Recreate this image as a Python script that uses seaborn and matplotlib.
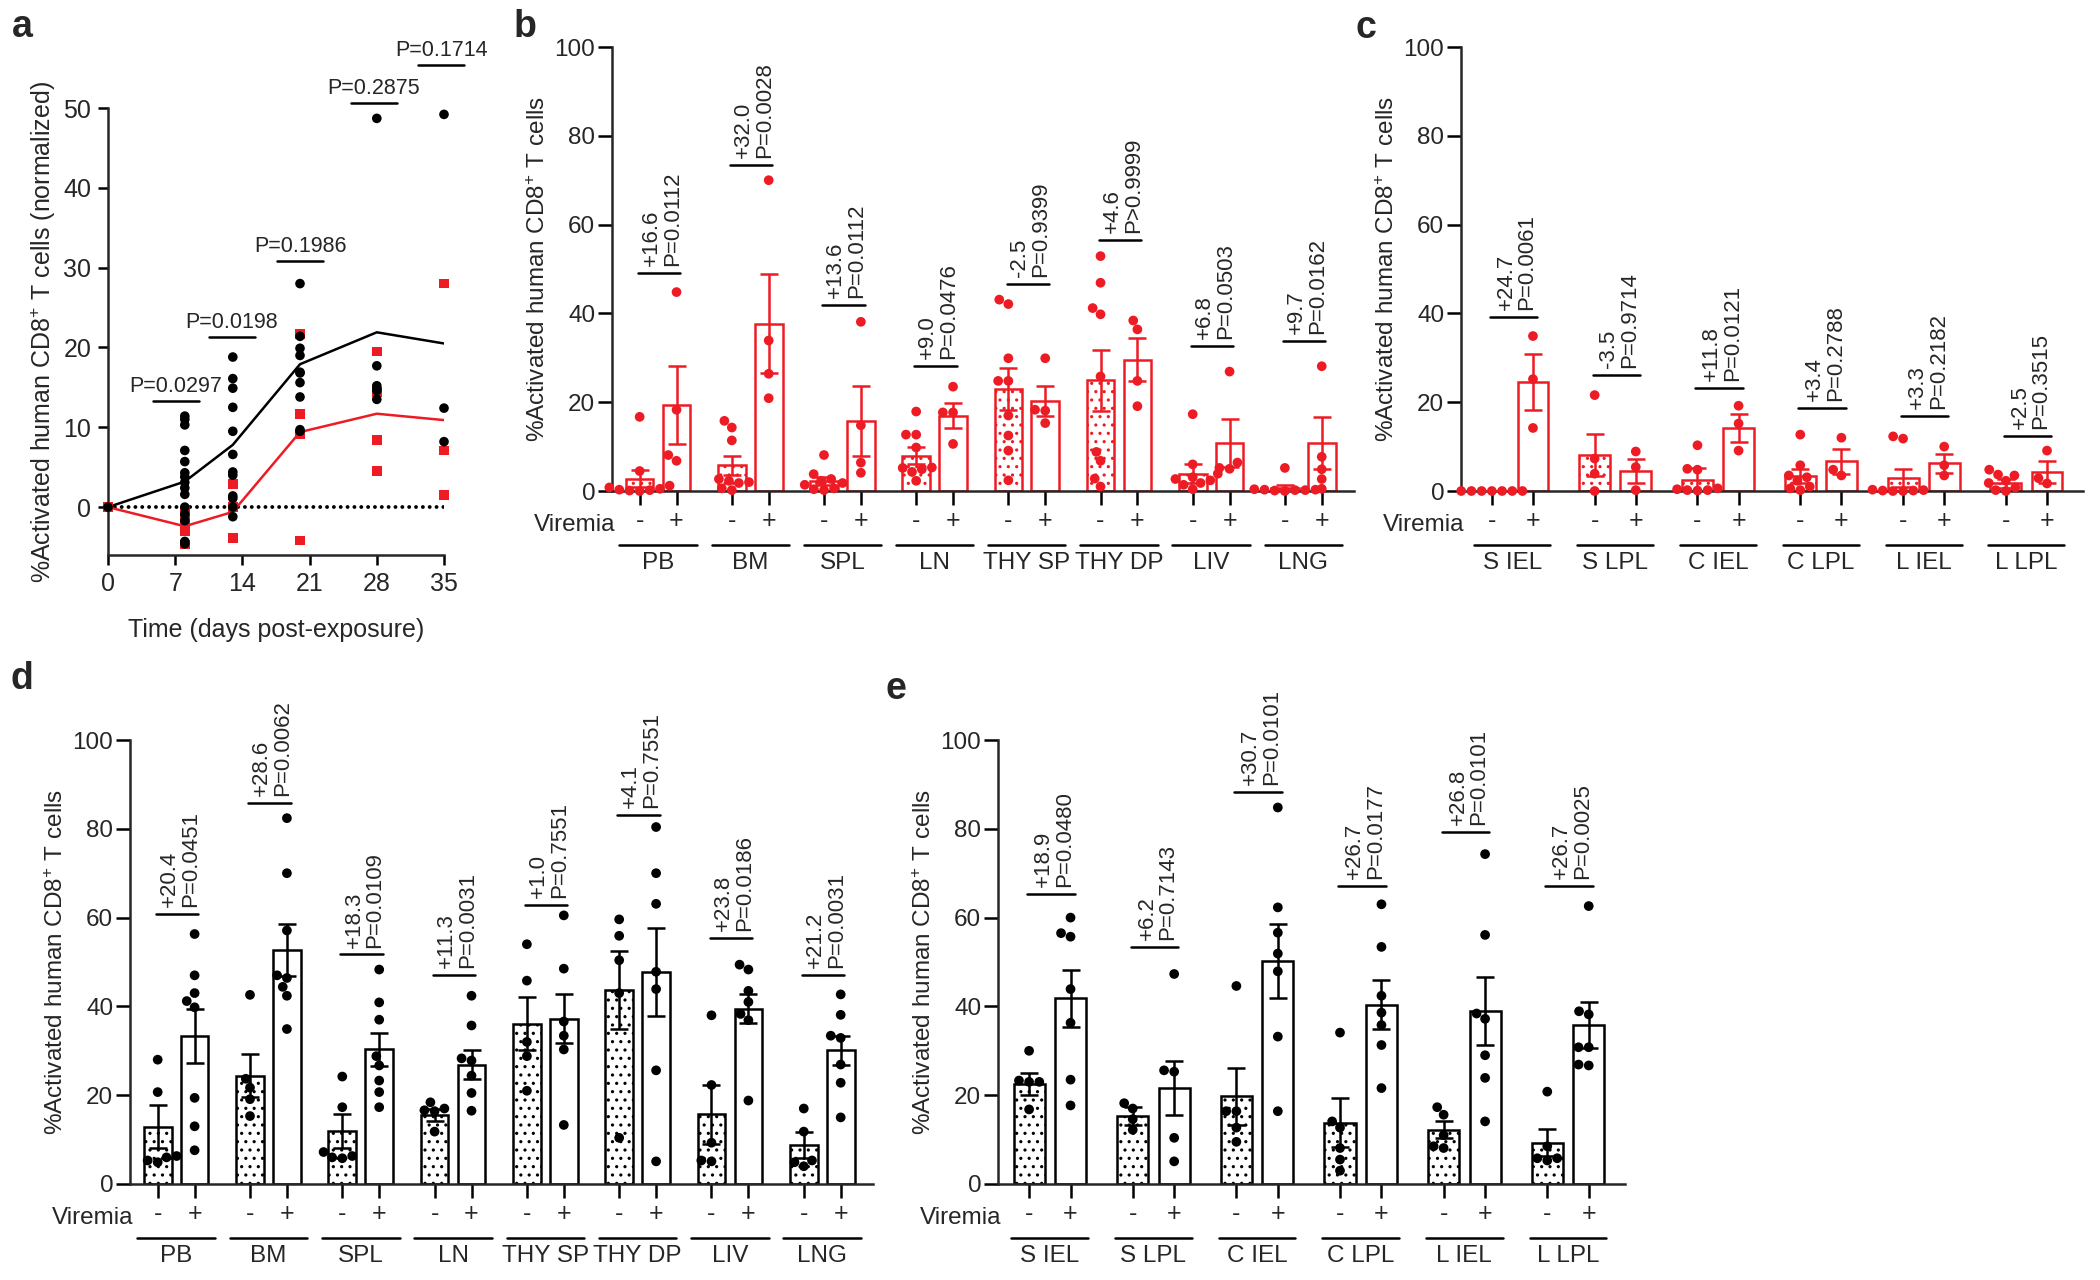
import matplotlib
matplotlib.use('Agg')
import pandas as pd
import matplotlib.pyplot as plt
import seaborn as sns

RED = '#ed1c24'

# ---------------- panel a: time course ----------------
days = [0, 8, 13, 20, 28, 35]
black_mean = [0, 3.2, 7.8, 17.9, 21.9, 20.5]
red_mean = [0, -2.4, -0.6, 9.4, 11.7, 10.9]
black_pts = [
    [0],
    [11.4, 11.0, 10.3, 7.1, 5.7, 4.3, 3.8, 3.1, 2.4, 1.6, 0, -0.9, -1.7, -4.3, -4.6],
    [18.8, 16.1, 14.9, 12.5, 9.5, 6.6, 4.4, 4.0, 1.4, 1.1, 0, -1.2],
    [28.0, 21.4, 19.9, 19.0, 16.9, 16.8, 15.6, 13.8, 9.7, 9.5],
    [48.7, 17.7, 15.2, 14.8, 14.6, 13.5],
    [49.2, 12.4, 8.2],
]
red_pts = [
    [0],
    [-0.5, -1.7, -3.0, -4.7],
    [2.9, 0, -3.9],
    [21.7, 11.7, 9.1, -4.2],
    [19.5, 14.4, 8.4, 4.5],
    [28.0, 7.1, 1.5],
]
p_center = [7.1, 12.9, 20.0, 27.7, 34.7]
p_height = [13.3, 21.3, 30.8, 50.6, 55.4]
p_label = ['P=0.0297', 'P=0.0198', 'P=0.1986', 'P=0.2875', 'P=0.1714']

# ---------------- panel b: human tissues (red) ----------------
tissues = ['PB', 'BM', 'SPL', 'LN', 'THY SP', 'THY DP', 'LIV', 'LNG']
b_neg_mean = [2.8, 5.75, 2.25, 7.9, 22.9, 24.9, 3.9, 0.75]
b_neg_sem = [2.0, 2.1, 0.9, 1.9, 4.7, 6.9, 2.1, 0.5]
b_pos_mean = [19.35, 37.7, 15.8, 17.0, 20.35, 29.6, 10.8, 10.8]
b_pos_sem = [8.7, 11.2, 7.9, 2.9, 3.35, 4.8, 5.4, 5.9]
b_neg_pts = [
    [16.7, 4.5, 1.2, 0.8, 0.5, 0.3, 0.2, 0.1, 0.0],
    [15.8, 14.3, 11.4, 2.7, 2.3, 2.0, 1.8, 0.6, 0.2],
    [8.1, 3.8, 2.7, 2.3, 1.8, 1.4, 0.6, 0.4, 0.2],
    [17.9, 12.7, 12.7, 9.8, 5.3, 5.2, 4.9, 4.3, 2.3],
    [43.1, 42.1, 29.9, 24.8, 24.8, 17.0, 12.5, 9.1, 2.4],
    [52.9, 46.9, 41.2, 39.8, 25.8, 8.8, 6.8, 2.8, 1.0],
    [17.3, 6.0, 3.9, 3.1, 2.7, 2.4, 1.8, 1.4, 0.4],
    [5.2, 0.5, 0.4, 0.3, 0.3, 0.2, 0.2, 0.1, 0.0],
]
b_pos_pts = [
    [44.8, 18.3, 8.1, 6.8],
    [70.0, 33.9, 26.4, 20.9],
    [38.1, 14.8, 6.4, 4.1],
    [23.5, 17.7, 17.7, 10.6],
    [29.9, 18.3, 18.1, 15.3],
    [38.4, 36.4, 24.8, 19.1],
    [26.9, 6.4, 5.2, 5.0],
    [28.1, 7.7, 4.9, 2.7],
]
b_delta = ['+16.6', '+32.0', '+13.6', '+9.0', '-2.5', '+4.6', '+6.8', '+9.7']
b_pval = ['P=0.0112', 'P=0.0028', 'P=0.0112', 'P=0.0476', 'P=0.9399', 'P>0.9999', 'P=0.0503', 'P=0.0162']
b_line = [49.1, 73.4, 41.9, 28.1, 46.6, 56.6, 32.7, 33.7]

# ---------------- panel c: gut (red) ----------------
gut = ['S IEL', 'S LPL', 'C IEL', 'C LPL', 'L IEL', 'L LPL']
c_neg_mean = [0.0, 8.1, 2.4, 3.3, 2.9, 1.7]
c_neg_sem = [0.0, 4.7, 2.8, 1.6, 2.1, 1.0]
c_pos_mean = [24.5, 4.5, 14.2, 6.7, 6.2, 4.3]
c_pos_sem = [6.3, 2.8, 3.1, 2.8, 2.1, 2.4]
c_neg_pts = [
    [0, 0, 0, 0, 0, 0, 0],
    [21.6, 7.3, 3.9, 0.0],
    [10.3, 5.0, 4.8, 0.6, 0.4, 0.2, 0.2, 0.1],
    [12.7, 5.8, 3.5, 3.1, 2.3, 1.0, 0.6, 0.2],
    [12.3, 11.8, 0.3, 0.2, 0.1, 0.1, 0.0, 0.0],
    [4.8, 3.7, 3.5, 2.3, 1.8, 0.8, 0.2, 0.0],
]
c_pos_pts = [
    [34.9, 25.2, 14.2],
    [8.9, 5.4, 0.2],
    [19.2, 15.2, 9.1],
    [12.0, 4.8, 3.5],
    [10.0, 5.8, 3.5],
    [9.1, 2.9, 1.7],
]
c_delta = ['+24.7', '-3.5', '+11.8', '+3.4', '+3.3', '+2.5']
c_pval = ['P=0.0061', 'P=0.9714', 'P=0.0121', 'P=0.2788', 'P=0.2182', 'P=0.3515']
c_line = [39.2, 26.2, 23.3, 18.8, 16.8, 12.3]

# ---------------- panel d: human tissues (black) ----------------
d_neg_mean = [12.9, 24.4, 11.9, 15.6, 36.1, 43.7, 15.7, 8.8]
d_neg_sem = [4.8, 4.8, 3.8, 1.4, 6.0, 8.8, 6.6, 3.0]
d_pos_mean = [33.4, 52.7, 30.3, 26.9, 37.2, 47.8, 39.5, 30.1]
d_pos_sem = [6.1, 5.9, 3.8, 3.2, 5.5, 9.9, 3.2, 3.3]
d_neg_pts = [
    [28.0, 20.7, 6.3, 6.0, 5.3, 4.9],
    [42.6, 23.7, 21.7, 19.1, 15.3],
    [24.2, 17.3, 7.2, 6.3, 6.0, 5.8],
    [18.4, 17.0, 16.6, 16.4, 11.8],
    [54.0, 45.8, 32.0, 28.8, 21.0],
    [59.6, 55.9, 50.4, 43.0, 10.4],
    [38.0, 22.3, 9.3, 5.3, 5.1],
    [17.0, 11.8, 5.3, 4.9, 4.0],
]
d_pos_pts = [
    [56.3, 47.0, 43.0, 41.2, 39.8, 19.4, 13.0, 7.6],
    [82.4, 70.0, 57.1, 47.0, 46.4, 44.4, 42.4, 34.9],
    [48.3, 40.9, 37.0, 28.8, 26.7, 23.3, 20.7, 17.3],
    [42.4, 35.7, 28.3, 27.8, 24.4, 20.5, 16.5],
    [60.5, 48.5, 36.6, 33.4, 30.3, 13.3],
    [80.4, 70.0, 63.1, 47.8, 43.9, 25.6, 5.1],
    [49.4, 48.3, 43.5, 41.0, 38.3, 36.9, 18.8],
    [42.7, 38.1, 33.4, 32.9, 26.9, 22.8, 15.0],
]
d_delta = ['+20.4', '+28.6', '+18.3', '+11.3', '+1.0', '+4.1', '+23.8', '+21.2']
d_pval = ['P=0.0451', 'P=0.0062', 'P=0.0109', 'P=0.0031', 'P=0.7551', 'P=0.7551', 'P=0.0186', 'P=0.0031']
d_line = [60.9, 85.9, 51.7, 47.0, 62.8, 83.2, 55.4, 47.0]

# ---------------- panel e: gut (black) ----------------
e_neg_mean = [22.6, 15.4, 19.8, 13.8, 12.2, 9.3]
e_neg_sem = [2.5, 2.0, 6.4, 5.5, 1.9, 3.1]
e_pos_mean = [41.8, 21.7, 50.2, 40.4, 38.9, 35.8]
e_pos_sem = [6.5, 6.1, 8.4, 5.6, 7.7, 5.1]
e_neg_pts = [
    [30.0, 23.3, 23.0, 23.0, 16.8],
    [18.2, 17.0, 14.6, 12.2],
    [44.6, 16.4, 16.4, 12.7, 9.5],
    [34.1, 14.1, 12.7, 8.1, 5.5, 3.0],
    [17.3, 15.6, 11.0, 8.5, 8.1],
    [20.8, 8.5, 5.8, 5.8, 5.3],
]
e_pos_pts = [
    [60.0, 56.5, 55.7, 43.9, 36.3, 23.5, 17.7],
    [47.3, 25.6, 25.3, 10.4, 5.1],
    [84.8, 62.3, 56.6, 51.9, 47.9, 33.2, 16.4],
    [63.0, 53.4, 42.4, 38.6, 35.8, 31.3, 21.6],
    [74.3, 56.1, 38.4, 37.2, 29.0, 23.9, 14.1],
    [62.6, 38.9, 38.2, 30.8, 30.8, 26.9, 26.7],
]
e_delta = ['+18.9', '+6.2', '+30.7', '+26.7', '+26.8', '+26.7']
e_pval = ['P=0.0480', 'P=0.7143', 'P=0.0101', 'P=0.0177', 'P=0.0101', 'P=0.0025']
e_line = [65.3, 53.4, 88.3, 67.1, 79.3, 67.1]

sns.set_theme(style='ticks')
plt.rcParams['font.family'] = ['Liberation Sans', 'DejaVu Sans']
plt.rcParams['mathtext.fontset'] = 'custom'
plt.rcParams['mathtext.rm'] = 'Liberation Sans'
plt.rcParams['mathtext.default'] = 'regular'
plt.rcParams['hatch.linewidth'] = 1.1

W, H = 2100, 1280
fig = plt.figure(figsize=(W / 100, H / 100), dpi=100)


def box(x0, y0, x1, y1):
    # pixel box (top-left origin) -> figure fraction rect
    return [x0 / W, 1 - y1 / H, (x1 - x0) / W, (y1 - y0) / H]


def bar_panel(ax, groups, neg_mean, neg_sem, pos_mean, pos_sem, neg_pts, pos_pts,
              deltas, pvals, line_y, color, under_half):
    n = len(groups)
    means = pd.DataFrame({'Tissue': groups * 2,
                          'Viremia': ['-'] * n + ['+'] * n,
                          'Mean': neg_mean + pos_mean})
    rows = []
    for vir, plist in (('-', neg_pts), ('+', pos_pts)):
        for g, vals in zip(groups, plist):
            rows += [(g, vir, v) for v in vals]
    pts = pd.DataFrame(rows, columns=['Tissue', 'Viremia', 'Value'])

    sns.barplot(data=means, x='Tissue', y='Mean', hue='Viremia', order=groups,
                hue_order=['-', '+'], palette={'-': 'white', '+': 'white'},
                edgecolor=color, linewidth=1.8, gap=0.25, errorbar=None,
                legend=False, ax=ax)
    bars = list(ax.containers[:2])
    for b in bars[0]:
        b.set_hatch('..')
        b.set_edgecolor(color)
    for cont, m, s in zip(bars, (neg_mean, pos_mean), (neg_sem, pos_sem)):
        xs = [b.get_x() + b.get_width() / 2 for b in cont]
        ax.errorbar(xs, m, yerr=s, fmt='none', ecolor=color, elinewidth=1.8,
                    capsize=6.5, capthick=1.8, zorder=4)
    sns.swarmplot(data=pts, x='Tissue', y='Value', hue='Viremia', order=groups,
                  hue_order=['-', '+'], palette={'-': color, '+': color},
                  dodge=True, size=7, legend=False, ax=ax, warn_thresh=1)
    for coll in ax.collections:
        coll.set_clip_on(False)
        coll.set_zorder(5)

    ax.set_ylim(0, 100)
    ax.set_yticks(range(0, 101, 20))
    ax.set_xlim(-0.5, n - 0.45)
    ax.set_xlabel('')
    ax.set_ylabel('%Activated human CD8$^{+}$ T cells', fontsize=17.5, labelpad=3)
    sns.despine(ax=ax)
    for sp in ('left', 'bottom'):
        ax.spines[sp].set_linewidth(1.8)
    ticks = [i + off for i in range(n) for off in (-0.2, 0.2)]
    ax.set_xticks(ticks, ['-', '+'] * n)
    ax.tick_params(axis='y', length=10, width=1.8, labelsize=17.5, pad=2, color='black')
    ax.tick_params(axis='x', length=10, width=1.8, labelsize=18, pad=3, color='black')

    for i in range(n):
        ax.plot([i - 0.22, i + 0.24], [line_y[i]] * 2, color='black', lw=1.8, clip_on=False)
        ax.annotate(f'{deltas[i]}\n{pvals[i]}', xy=(i + 0.04, line_y[i]), xytext=(0, 5),
                    textcoords='offset points', rotation=90, ha='center', va='bottom',
                    multialignment='left', fontsize=16, linespacing=1.0,
                    annotation_clip=False)

    ax.text(0.005, -0.09, 'Viremia', transform=ax.transAxes, ha='right',
            va='baseline', fontsize=17.5)
    trans = ax.get_xaxis_transform()
    for i, g in enumerate(groups):
        ax.plot([i - under_half, i + under_half], [-0.122, -0.122], transform=trans,
                color='black', lw=1.8, clip_on=False)
        ax.text(i, -0.163, g, transform=trans, ha='center', va='center', fontsize=17.5)


# ---- panel a ----
ax_a = fig.add_axes(box(108, 108, 444, 555))
ax_a.hlines(0, days[0], days[-1], colors='black', linestyles=(0, (0.01, 1.75)),
            linewidth=2.8, capstyle='round', zorder=1)
sns.lineplot(x=days, y=black_mean, color='black', lw=1.8, ax=ax_a, zorder=2)
sns.lineplot(x=days, y=red_mean, color=RED, lw=1.8, ax=ax_a, zorder=2)
rows = []
for grp, plist in (('Red', red_pts), ('Black', black_pts)):
    for d, vals in zip(days, plist):
        rows += [(d, v, grp) for v in vals]
pts_a = pd.DataFrame(rows, columns=['Day', 'Value', 'Group'])
sns.scatterplot(data=pts_a, x='Day', y='Value', hue='Group', style='Group',
                markers={'Black': 'o', 'Red': 's'}, palette={'Black': 'black', 'Red': RED},
                s=48, linewidth=0, legend=False, ax=ax_a, zorder=3, clip_on=False)
for c, h, lab in zip(p_center, p_height, p_label):
    ax_a.plot([c - 2.4, c + 2.4], [h, h], color='black', lw=1.8, clip_on=False)
    ax_a.annotate(lab, xy=(c, h), xytext=(0, 3), textcoords='offset points',
                  ha='center', va='bottom', fontsize=15.5, annotation_clip=False)
ax_a.set_xlim(0, 35)
ax_a.set_ylim(-6, 50)
ax_a.set_xticks(range(0, 36, 7))
ax_a.set_yticks(range(0, 51, 10))
sns.despine(ax=ax_a)
for sp in ('left', 'bottom'):
    ax_a.spines[sp].set_linewidth(1.8)
ax_a.tick_params(length=7, width=1.8, labelsize=18, pad=5, color='black')
ax_a.set_xlabel('Time (days post-exposure)', fontsize=18, labelpad=16)
ax_a.set_ylabel('%Activated human CD8$^{+}$ T cells (normalized)', fontsize=18, labelpad=4)

# ---- panels b - e ----
ax_b = fig.add_axes(box(612, 47, 1354, 491))
bar_panel(ax_b, tissues, b_neg_mean, b_neg_sem, b_pos_mean, b_pos_sem, b_neg_pts, b_pos_pts,
          b_delta, b_pval, b_line, RED, 0.42)
ax_c = fig.add_axes(box(1461, 47, 2083, 491))
bar_panel(ax_c, gut, c_neg_mean, c_neg_sem, c_pos_mean, c_pos_sem, c_neg_pts, c_pos_pts,
          c_delta, c_pval, c_line, RED, 0.37)
ax_d = fig.add_axes(box(130, 740, 873, 1184))
bar_panel(ax_d, tissues, d_neg_mean, d_neg_sem, d_pos_mean, d_pos_sem, d_neg_pts, d_pos_pts,
          d_delta, d_pval, d_line, 'black', 0.42)
ax_e = fig.add_axes(box(998, 740, 1625, 1184))
bar_panel(ax_e, gut, e_neg_mean, e_neg_sem, e_pos_mean, e_pos_sem, e_neg_pts, e_pos_pts,
          e_delta, e_pval, e_line, 'black', 0.37)

for lab, x, y in (('a', 22, 27), ('b', 525, 27), ('c', 1366, 28), ('d', 22, 679), ('e', 896, 689)):
    fig.text(x / W, 1 - y / H, lab, ha='center', va='center', fontsize=27, fontweight='bold')

fig.savefig('out.png', dpi=100, facecolor='white')
